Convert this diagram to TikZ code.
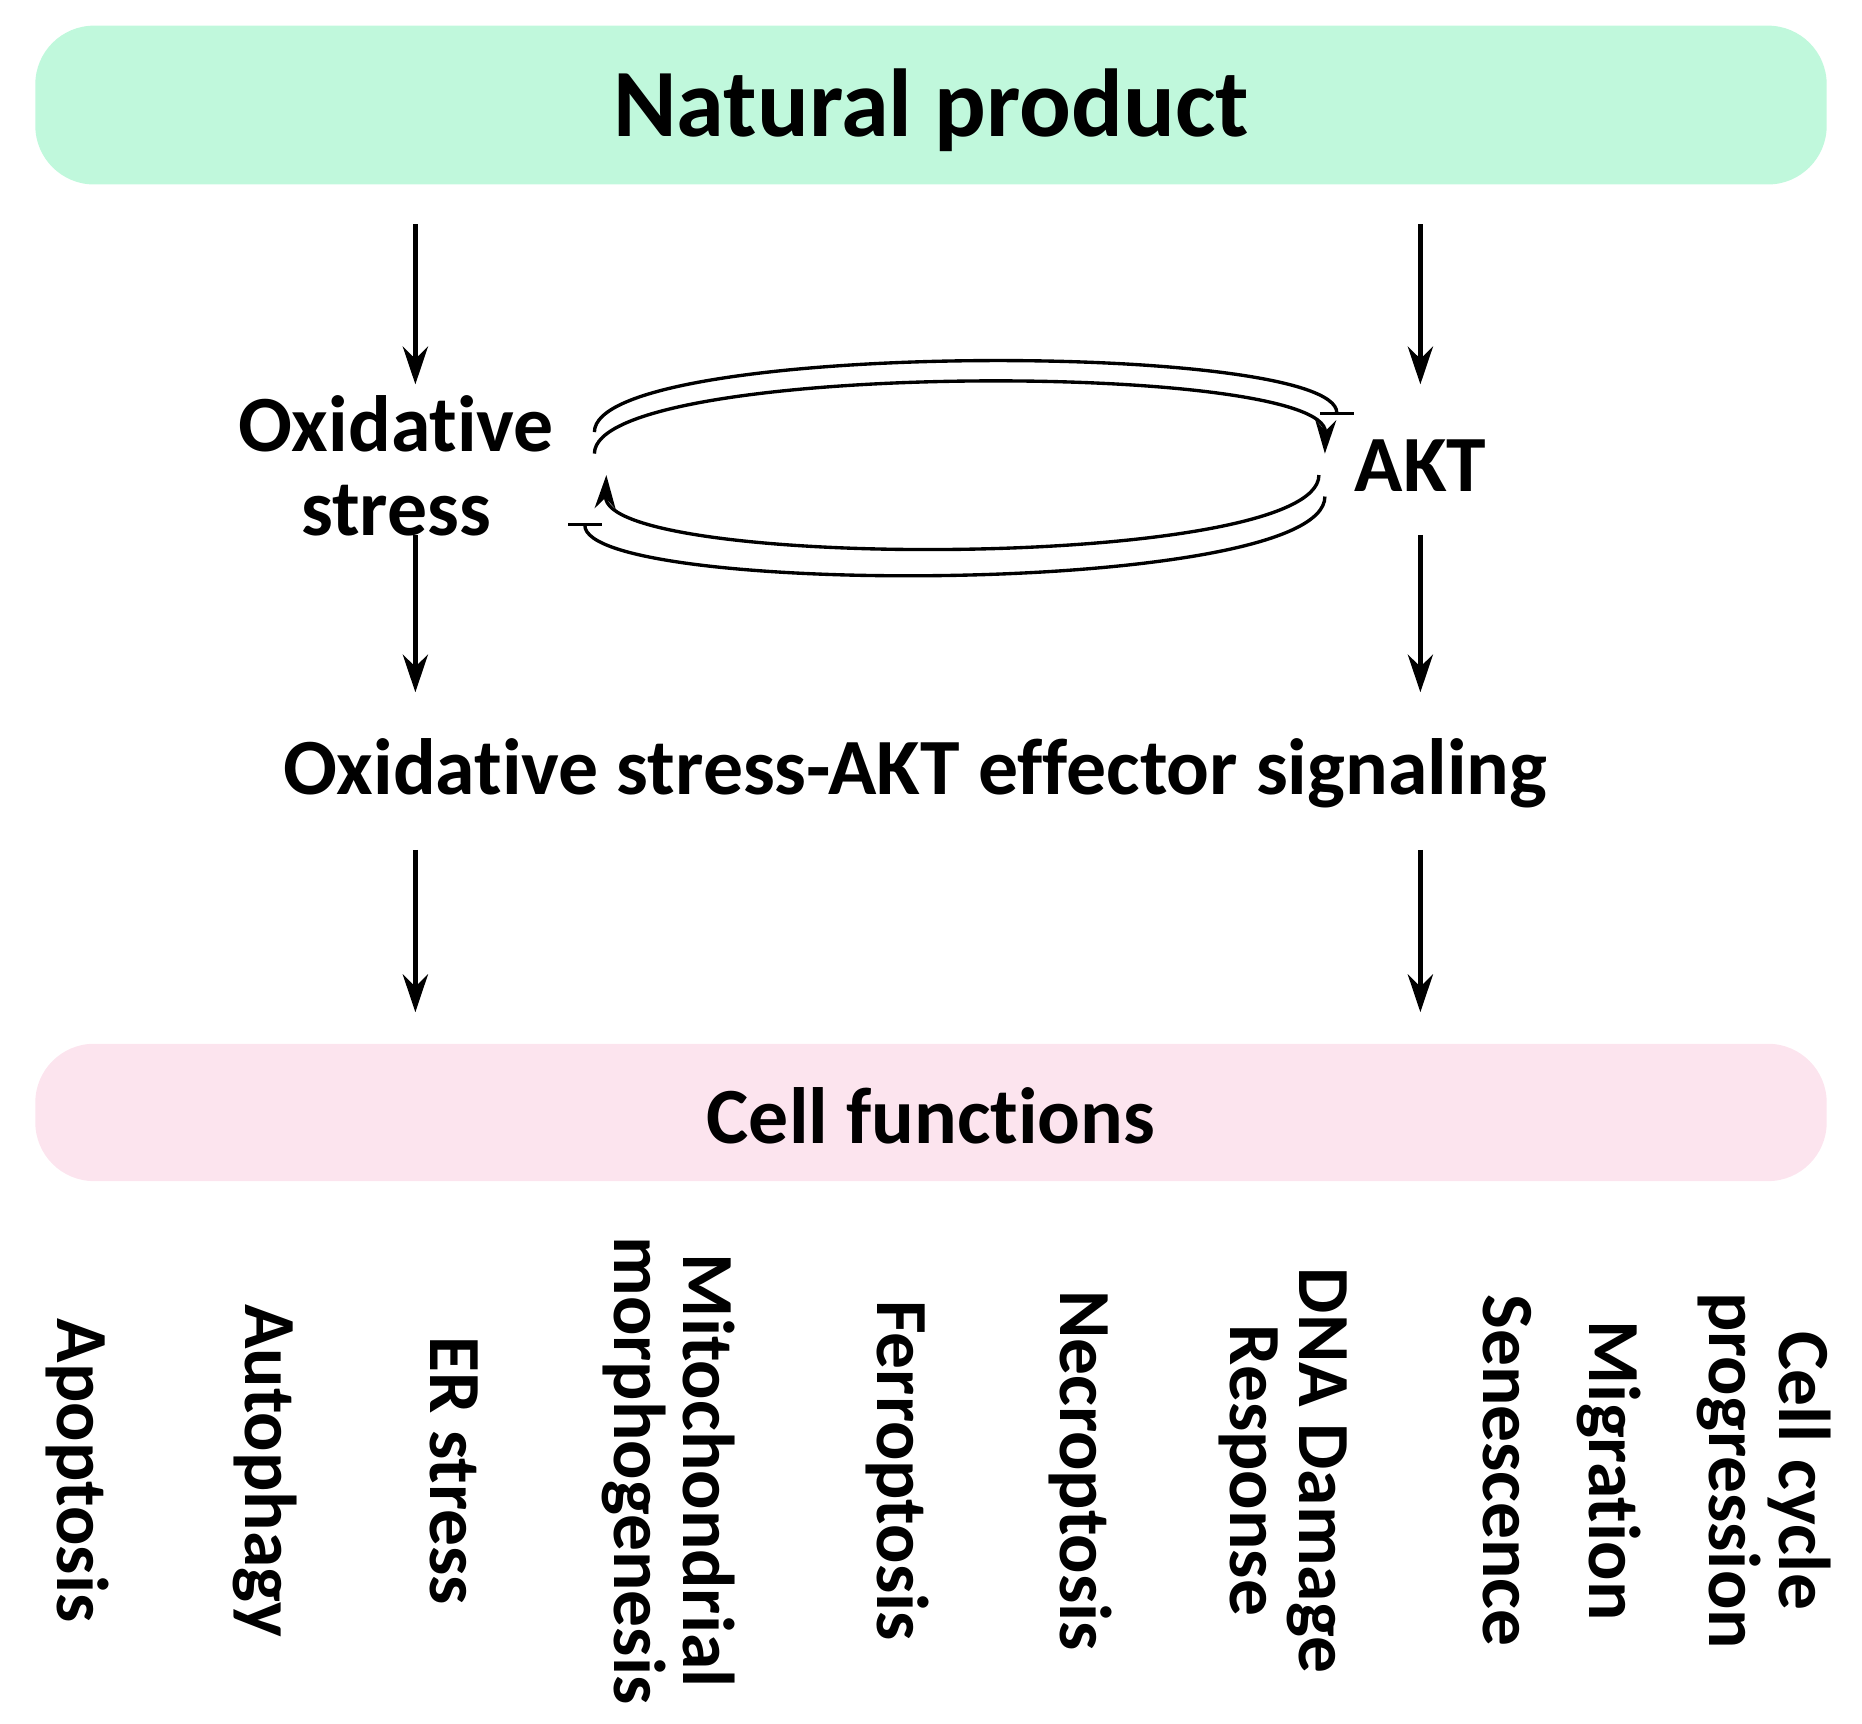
\documentclass[tikz,border=0pt]{standalone}
\usepackage{fontspec}
\setmainfont{Carlito}[RawFeature={-liga;-dlig}]
\usetikzlibrary{arrows.meta}
\begin{document}
\begin{tikzpicture}[x=0.01cm,y=-0.01cm,
  lbl/.style={font=\fontsize{19}{20}\selectfont\bfseries,align=center},
  big/.style={font=\fontsize{23}{26}\selectfont\bfseries},
  rot/.style={font=\fontsize{17.5}{16.5}\selectfont\bfseries,align=center,rotate=-90,anchor=center},
  arr/.style={-{Stealth[length=9pt,width=6pt]},line width=1.1pt},
  loopa/.style={-{Stealth[length=8pt,width=5pt]},line width=0.8pt},
  loopb/.style={-{Bar[width=8pt]},line width=0.8pt},
  box/.style={rounded corners=14pt,draw=none}]
\useasboundingbox (0,0) rectangle (1560,1444);
\node[box,fill={rgb,255:red,192;green,248;blue,220},minimum width=15cm,minimum height=1.33cm] (np) at (780,88) {};
\node[big] (npt) at (780,92) {Natural product};
\node[lbl] (ox) at (332,390) {Oxidative\\stress};
\node[lbl] (akt) at (1190,390) {AKT};
\node[lbl] (eff) at (767,648) {Oxidative stress-AKT effector signaling};
\node[box,fill={rgb,255:red,252;green,228;blue,238},minimum width=15cm,minimum height=1.15cm] (cf) at (780,932) {};
\node[lbl] (cft) at (780,935) {Cell functions};
\coordinate (a1) at (348,188); \coordinate (a2) at (348,322);
\coordinate (b1) at (1190,188); \coordinate (b2) at (1190,322);
\coordinate (a3) at (348,448); \coordinate (a4) at (348,580);
\coordinate (b3) at (1190,448); \coordinate (b4) at (1190,580);
\coordinate (a5) at (348,712); \coordinate (a6) at (348,848);
\coordinate (b5) at (1190,712); \coordinate (b6) at (1190,848);
\draw[arr] (a1)--(a2); \draw[arr] (b1)--(b2);
\draw[arr] (a3)--(a4); \draw[arr] (b3)--(b4);
\draw[arr] (a5)--(a6); \draw[arr] (b5)--(b6);
\coordinate (l1) at (498,362); \coordinate (r1) at (1120,348);
\coordinate (l2) at (498,380); \coordinate (r2) at (1110,380);
\coordinate (r3) at (1105,398); \coordinate (l3) at (508,398);
\coordinate (r4) at (1110,416); \coordinate (l4) at (490,438);
\draw[loopb] (l1) .. controls (498,285) and (1120,285) .. (r1);
\draw[loopa] (l2) .. controls (498,302) and (1112,302) .. (r2);
\draw[loopa] (r3) .. controls (1105,478) and (505,478) .. (l3);
\draw[loopb] (r4) .. controls (1110,500) and (490,500) .. (l4);
\node[rot] (t1) at (65,1232) {Apoptosis};
\node[rot] (t2) at (222,1232) {Autophagy};
\node[rot] (t3) at (380,1232) {ER stress};
\node[rot] (t4) at (560,1232) {Mitochondrial\\morphogenesis};
\node[rot] (t5) at (752,1232) {Ferroptosis};
\node[rot] (t6) at (905,1232) {Necroptosis};
\node[rot] (t7) at (1075,1232) {DNA Damage\\Response};
\node[rot] (t8) at (1263,1232) {Senescence};
\node[rot] (t9) at (1348,1232) {Migration};
\node[rot] (t10) at (1478,1232) {Cell cycle\\progression};
\end{tikzpicture}
\end{document}
